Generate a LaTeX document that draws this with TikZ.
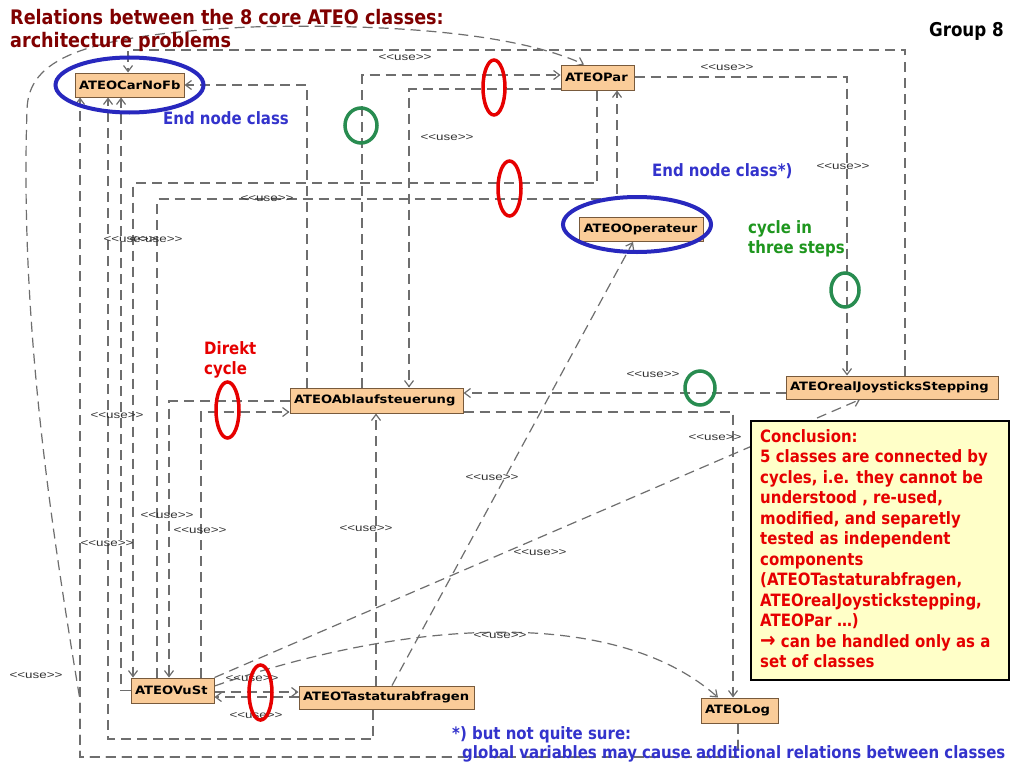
\documentclass[tikz,border=0pt]{standalone}
\usepackage{fontspec}
\setmainfont{DejaVu Sans}
\newfontfamily\slidefont[FakeStretch=0.88]{DejaVu Sans}
\newfontfamily\clsfont[FakeStretch=1.14]{DejaVu Sans}
\newfontfamily\stereofont[FakeStretch=1.3]{Liberation Sans}
\usetikzlibrary{arrows.meta,backgrounds}

\definecolor{clsfill}{RGB}{250,204,153}
\definecolor{clsline}{RGB}{120,90,60}
\definecolor{relgray}{RGB}{110,110,110}
\definecolor{titlered}{RGB}{128,0,0}
\definecolor{noteblue}{RGB}{51,51,204}
\definecolor{ringblue}{RGB}{40,40,190}
\definecolor{notered}{RGB}{230,0,0}
\definecolor{notegreen}{RGB}{30,150,30}
\definecolor{ringgreen}{RGB}{40,140,80}
\definecolor{conclfill}{RGB}{255,255,200}

\tikzset{
  cls/.style={draw=clsline, fill=clsfill, line width=1pt, inner xsep=4pt, inner ysep=0pt, align=left, font=\clsfont\bfseries\fontsize{11.5}{13}\selectfont},
  rel/.style={relgray, line width=1.2pt, dash pattern=on 10pt off 6pt, -{Straight Barb[length=6pt,width=9pt]}},
  stereo/.style={inner sep=0pt, text=black!80, font=\stereofont\fontsize{10.3}{12}\selectfont},
  ring/.style={line width=3.5pt},
  note/.style={inner sep=0pt, align=left, font=\slidefont\bfseries\fontsize{17}{20.5}\selectfont},
}

\begin{document}
\begin{tikzpicture}[x=1pt,y=-1pt]
\useasboundingbox (0,0) rectangle (1024,768);

% classes
\node[cls, text width=101pt, minimum height=24pt] (carnofb) at (129.5,85) {ATEOCarNoFb};
\node[cls, text width=65pt, minimum height=25pt] (par) at (597.5,77.5) {ATEOPar};
\node[cls, text width=116pt, minimum height=24pt] (operateur) at (641.5,229.5) {ATEOOperateur};
\node[cls, text width=165pt, minimum height=25pt] (ablauf) at (376.5,400.5) {ATEOAblaufsteuerung};
\node[cls, text width=204pt, minimum height=23pt] (joy) at (892,387.5) {ATEOrealJoysticksStepping};
\node[cls, text width=75pt, minimum height=25pt] (vust) at (172.5,690.5) {ATEOVuSt};
\node[cls, text width=167pt, minimum height=23pt] (tast) at (386.5,697.5) {ATEOTastaturabfragen};
\node[cls, text width=69pt, minimum height=25pt] (log) at (739.5,710.5) {ATEOLog};

% use relations, behind the classes
\begin{scope}[on background layer]
\fill[white] (0,0) rectangle (1024,768);
\draw[rel] (ablauf.north -| 307,0) |- (carnofb.east);
\draw[rel] (joy.north -| 905,0) -- (905,50) -- (128,50) -- (carnofb.north -| 128,0);
\draw[rel] (ablauf.north -| 362,0) |- (par.west |- 0,75);
\draw[rel] (par.west |- 0,89) -| (ablauf.north -| 409,0);
\draw[rel] (par.south -| 597,0) |- (133,183) -- (vust.north -| 133,0);
\draw[rel] (vust.north -| 157,0) |- (617,199) -- (par.south -| 617,0);
\draw[rel] (par.east |- 0,77) -| (joy.north -| 847,0);
\draw[rel] (joy.west |- 0,393) -- (ablauf.east |- 0,393);
\draw[rel] (ablauf.east |- 0,412) -| (log.north -| 733,0);
\draw[rel] (ablauf.west |- 0,401) -| (vust.north -| 169,0);
\draw[rel] (vust.north -| 201,0) |- (ablauf.west |- 0,412);
\draw[rel] (tast.north -| 376,0) -- (ablauf.south -| 376,0);
\draw[rel] (tast.south -| 373,0) -- (373,739) -| (carnofb.south -| 108,0);
\draw[rel] (vust.west) -| (carnofb.south -| 121,0);
\draw[rel] (log.south -| 738,0) |- (80,757) -- (carnofb.south -| 80,0);
\draw[rel] (log.south -| 738,0) |- (80,757) -- (80,700) .. controls (50,520) and (20,320) .. (27,110)
  .. controls (28,60) and (80,35) .. (250,27) .. controls (400,23) and (520,35) .. (par.north -| 584,0);
\draw[rel] (vust.north east) -- (joy.south -| 860,0);
\draw[rel] (vust.east |- 0,686) .. controls (420,615) and (620,610) .. (log.north -| 718,0);
\draw[rel] (tast.north -| 392,0) -- (operateur.south -| 633,0);
\draw[rel] (vust.east |- 0,692) -- (tast.west |- 0,692);
\draw[rel] (tast.west |- 0,697) -- (vust.east |- 0,697);
\end{scope}

% stereotypes
\node[stereo] (u1) at (405,58) {<{}<use>{}>};
\node[stereo] (u2) at (727,68) {<{}<use>{}>};
\node[stereo] (u3) at (447,138) {<{}<use>{}>};
\node[stereo] (u4) at (843,167) {<{}<use>{}>};
\node[stereo] (u5) at (267,199) {<{}<use>{}>};
\node[stereo] (u6) at (130,240) {<{}<use>{}>};
\node[stereo] (u7) at (156,240) {<{}<use>{}>};
\node[stereo] (u8) at (653,375) {<{}<use>{}>};
\node[stereo] (u9) at (117,416) {<{}<use>{}>};
\node[stereo] (u10) at (715,438) {<{}<use>{}>};
\node[stereo] (u11) at (492,478) {<{}<use>{}>};
\node[stereo] (u12) at (167,516) {<{}<use>{}>};
\node[stereo] (u13) at (200,531) {<{}<use>{}>};
\node[stereo] (u14) at (366,529) {<{}<use>{}>};
\node[stereo] (u15) at (540,553) {<{}<use>{}>};
\node[stereo] (u16) at (107,544) {<{}<use>{}>};
\node[stereo] (u17) at (500,636) {<{}<use>{}>};
\node[stereo] (u18) at (36,676) {<{}<use>{}>};
\node[stereo] (u19) at (252,679) {<{}<use>{}>};
\node[stereo] (u20) at (256,716) {<{}<use>{}>};

% conclusion
\node[draw=black, fill=conclfill, line width=1.5pt, minimum width=258pt, minimum height=259pt, anchor=north west] (concl) at (750,420) {};
\node[note, text=notered, anchor=north west] (concltext) at (760,429) {Conclusion:\\5 classes are connected by\\cycles, i.e. they cannot be\\understood , re-used,\\modified, and separetly\\tested as independent\\components\\(ATEOTastaturabfragen,\\ATEOrealJoystickstepping,\\ATEOPar \dots)\\{\fontsize{21}{20.5}\selectfont →} can be handled only as a\\set of classes};

% marks
\draw[ring, ringblue, line width=4pt] (carnofb) ellipse [x radius=74pt, y radius=27.5pt];
\draw[ring, ringblue, line width=4pt] (637,224.5) ellipse [x radius=74pt, y radius=27.5pt];
\draw[ring, notered] (494,87.5) ellipse [x radius=11pt, y radius=27.5pt];
\draw[ring, notered] (509.5,188.5) ellipse [x radius=11.5pt, y radius=27.5pt];
\draw[ring, notered] (227.5,410) ellipse [x radius=11.5pt, y radius=28pt];
\draw[ring, notered] (260.5,692.5) ellipse [x radius=11.5pt, y radius=27.5pt];
\draw[ring, ringgreen] (361,125.5) ellipse [x radius=16pt, y radius=17.5pt];
\draw[ring, ringgreen] (845,290) ellipse [x radius=14pt, y radius=17pt];
\draw[ring, ringgreen] (700,388) ellipse [x radius=15pt, y radius=17pt];

% slide texts
\node[anchor=base west, inner sep=0pt, text=titlered, font=\slidefont\bfseries\fontsize{20}{23}\selectfont] (title1) at (10,25) {Relations between the 8 core ATEO classes:};
\node[anchor=base west, inner sep=0pt, text=titlered, font=\slidefont\bfseries\fontsize{20}{23}\selectfont] (title2) at (10,48) {architecture problems};
\node[anchor=base east, inner sep=0pt, font=\slidefont\bfseries\fontsize{19}{22}\selectfont] (group) at (1004,37) {Group 8};
\node[note, text=noteblue, anchor=base west] (endnode) at (163,124) {End node class};
\node[note, text=noteblue, anchor=base west] (endnodestar) at (652,176) {End node class*)};
\node[note, text=notegreen, anchor=north west] (threesteps) at (748,220) {cycle in\\three steps};
\node[note, text=notered, anchor=north west] (direkt) at (204,341) {Direkt\\cycle};
\node[note, text=noteblue, anchor=base west] (foot1) at (452,739) {*) but not quite sure:};
\node[note, text=noteblue, anchor=base west] (foot2) at (462,758) {global variables may cause additional relations between classes};
\end{tikzpicture}
\end{document}
